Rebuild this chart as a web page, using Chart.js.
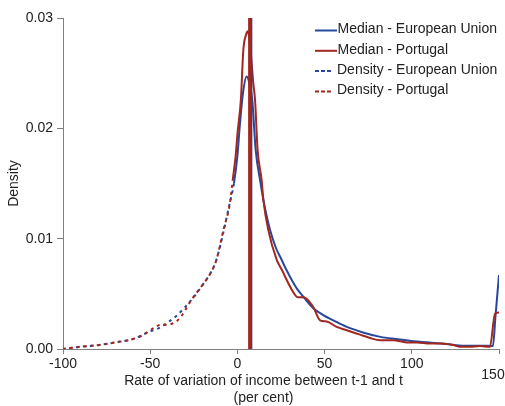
<!DOCTYPE html>
<html>
<head>
<meta charset="utf-8">
<script src="https://cdn.jsdelivr.net/npm/chart.js@4/dist/chart.umd.min.js"></script>
<style>
  body { margin: 0; background: #fff; }
  #wrap { width: 505px; height: 406px; }
</style>
</head>
<body>
<div id="wrap"><canvas id="densityChart"></canvas></div>
<script>
// density of the income variation
const euX = [-100, -90, -80, -70, -60, -50, -45, -40, -35, -30, -25, -20, -15, -12, -8, -5, -2, 0, 1.3, 3.2, 5.3, 7, 8.5, 10.5, 13, 14.9, 18.7, 22, 25, 28, 31, 34, 38, 43.5, 49, 55, 62.7, 72, 82, 91, 101, 110, 120, 130, 139, 146.5, 148, 150];
const euY = [0, 0.0002, 0.00035, 0.0006, 0.0009, 0.0016, 0.0019, 0.0024, 0.0030, 0.0038, 0.0047, 0.0058, 0.0070, 0.0081, 0.0106, 0.0128, 0.0150, 0.0175, 0.0201, 0.0232, 0.0247, 0.0240, 0.0226, 0.0180, 0.0153, 0.0135, 0.0108, 0.0092, 0.0082, 0.0072, 0.0063, 0.0055, 0.0047, 0.0037, 0.0031, 0.0026, 0.0020, 0.0015, 0.0011, 0.0009, 0.0007, 0.0006, 0.00045, 0.0003, 0.0003, 0.00027, 0.0030, 0.0067];

const ptX = [-100, -90, -80, -70, -60, -55, -50, -47, -44, -40, -36, -33, -30, -27, -21, -16, -12, -8, -4.3, -2.7, -1, 0.1, 2, 3.4, 5, 5.9, 7, 9.1, 10.1, 11.6, 13.9, 14.9, 17.7, 22.5, 25.4, 31.1, 34.5, 37, 39.3, 43.5, 47.4, 51.2, 56.9, 62.7, 70.3, 76, 81.8, 89.4, 97.1, 103, 110.4, 117, 123.8, 127.6, 133, 139, 144.8, 147.7, 150];
const ptY = [0, 0.0002, 0.00035, 0.0006, 0.0009, 0.0012, 0.0017, 0.0020, 0.0022, 0.0022, 0.0024, 0.0028, 0.0035, 0.0043, 0.0056, 0.0067, 0.0081, 0.0108, 0.0132, 0.0153, 0.0175, 0.0196, 0.0226, 0.0271, 0.0285, 0.0288, 0.0280, 0.0241, 0.0226, 0.0180, 0.0153, 0.0135, 0.0108, 0.0081, 0.0072, 0.0054, 0.0047, 0.0047, 0.0046, 0.0038, 0.0026, 0.0025, 0.0020, 0.0017, 0.0013, 0.0010, 0.0008, 0.0008, 0.0006, 0.0006, 0.0005, 0.0005, 0.00036, 0.0002, 0.0002, 0.00027, 0.0002, 0.0032, 0.0033];

const medianEU = 8.0;
const medianPT = 7.0;

const xTicks = [-100, -50, 0, 50, 100, 150];
const yTicks = [0, 0.01, 0.02, 0.03];

const blue = '#27489a';
const red = '#a3261f';
const axisColor = '#808080';
const textColor = '#222';
const fontFamily = '"Liberation Sans", Arial, sans-serif';

const toPoints = (xs, ys) => xs.map((x, i) => ({ x: x, y: ys[i] }));
const medianLine = (m) => [{ x: m, y: yTicks[0] }, { x: m, y: yTicks[yTicks.length - 1] }];

// left tail is dotted, right side solid
const dashedBelow = -2;
const tailDash = (ctx) => ctx.p1.parsed.x <= dashedBelow ? [3, 4] : [];

// legend and the lowered "150" label are drawn by hand
const overlayText = {
  id: 'overlayText',
  afterDraw(chart) {
    const ctx = chart.ctx;
    const area = chart.chartArea;
    const xs = chart.scales.x;
    ctx.save();
    ctx.font = '14px ' + fontFamily;
    ctx.fillStyle = textColor;
    ctx.textBaseline = 'middle';

    const last = xTicks[xTicks.length - 1];
    ctx.textAlign = 'center';
    ctx.fillText(String(last), xs.getPixelForValue(last) - 6, xs.top + 26);

    ctx.textAlign = 'left';
    chart.data.datasets.forEach((ds, i) => {
      const y = area.top + 12.5 + i * 20.3;
      const x0 = area.right - 184;
      const dashed = ds.legendDash.length > 0;
      ctx.beginPath();
      ctx.strokeStyle = ds.borderColor;
      ctx.lineWidth = 2;
      ctx.setLineDash(ds.legendDash);
      ctx.moveTo(x0, y);
      ctx.lineTo(x0 + (dashed ? 17 : 22), y);
      ctx.stroke();
      ctx.setLineDash([]);
      ctx.fillText(ds.label, x0 + (dashed ? 22 : 22.5), y - 1);
    });
    ctx.restore();
  }
};

const ctx = document.getElementById('densityChart').getContext('2d');

const densityChart = new Chart(ctx, {
  type: 'line',
  data: {
    datasets: [
      {
        label: 'Median - European Union',
        data: medianLine(medianEU),
        borderColor: blue,
        borderWidth: 2,
        legendDash: [],
        order: 1
      },
      {
        label: 'Median - Portugal',
        data: medianLine(medianPT),
        borderColor: red,
        borderWidth: 3,
        legendDash: [],
        order: 0
      },
      {
        label: 'Density - European Union',
        data: toPoints(euX, euY),
        borderColor: blue,
        borderWidth: 2,
        borderDashOffset: 1,
        cubicInterpolationMode: 'monotone',
        segment: { borderDash: tailDash },
        legendDash: [4, 2],
        order: 3
      },
      {
        label: 'Density - Portugal',
        data: toPoints(ptX, ptY),
        borderColor: red,
        borderWidth: 2,
        cubicInterpolationMode: 'monotone',
        segment: { borderDash: tailDash },
        legendDash: [4, 2],
        order: 2
      }
    ]
  },
  options: {
    responsive: true,
    maintainAspectRatio: false,
    animation: false,
    layout: {
      padding: { left: 0, right: 6, top: 18, bottom: 0 }
    },
    elements: {
      point: { radius: 0 },
      line: { fill: false }
    },
    scales: {
      x: {
        type: 'linear',
        min: xTicks[0],
        max: xTicks[xTicks.length - 1],
        afterBuildTicks: (scale) => { scale.ticks = xTicks.map(v => ({ value: v })); },
        afterFit: (scale) => { scale.height = 57; },
        border: { color: axisColor, width: 1 },
        grid: {
          drawOnChartArea: false,
          drawTicks: true,
          tickLength: 5,
          color: axisColor
        },
        ticks: {
          padding: 2,
          maxRotation: 0,
          color: textColor,
          font: { family: fontFamily, size: 14 },
          callback: function (value) {
            return value === xTicks[xTicks.length - 1] ? '' : value;
          }
        },
        title: {
          display: true,
          text: [
            'Rate of variation of income between t-1 and t' + '\u00a0'.repeat(9),
            '(per cent)' + '\u00a0'.repeat(9)
          ],
          color: textColor,
          font: { family: fontFamily, size: 14, lineHeight: 1.18 },
          padding: { top: 0, bottom: 0 }
        }
      },
      y: {
        min: yTicks[0],
        max: yTicks[yTicks.length - 1],
        afterBuildTicks: (scale) => { scale.ticks = yTicks.map(v => ({ value: v })); },
        afterFit: (scale) => { scale.width = 63; },
        border: { color: axisColor, width: 1 },
        grid: {
          drawOnChartArea: false,
          drawTicks: true,
          tickLength: 6,
          color: axisColor
        },
        ticks: {
          padding: 4,
          color: textColor,
          font: { family: fontFamily, size: 14 },
          callback: function (value) {
            return value.toFixed(2);
          }
        },
        title: {
          display: true,
          text: 'Density',
          color: textColor,
          font: { family: fontFamily, size: 14 },
          padding: { top: 6, bottom: 0 }
        }
      }
    },
    plugins: {
      legend: { display: false },
      tooltip: { enabled: false }
    }
  },
  plugins: [overlayText]
});
</script>
</body>
</html>
